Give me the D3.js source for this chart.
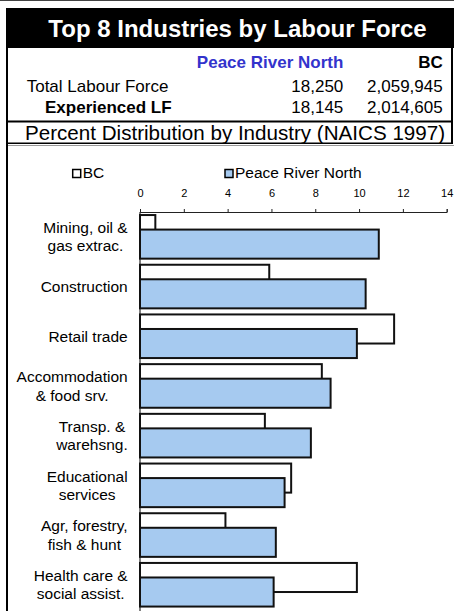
<!DOCTYPE html>
<html>
<head>
<meta charset="utf-8">
<script src="https://cdn.jsdelivr.net/npm/d3@7"></script>
<style>
  html, body { margin: 0; padding: 0; background: #fff; }
  svg { display: block; font-family: Arial, 'Liberation Sans', sans-serif; }
</style>
</head>
<body>
<div class="chart"></div>
<script>
const title = 'Top 8 Industries by Labour Force'
const subtitle = 'Percent Distribution by Industry (NAICS 1997)'
const regions = ['Peace River North', 'BC']
const totalLabourForce = ['18,250', '2,059,945']
const experiencedLF = ['18,145', '2,014,605']

const categories = [
  ['Mining, oil &', 'gas extrac.'],
  ['Construction'],
  ['Retail trade'],
  ['Accommodation', '& food srv.'],
  ['Transp. &', 'warehsng.'],
  ['Educational', 'services'],
  ['Agr, forestry,', 'fish & hunt'],
  ['Health care &', 'social assist.']
]
const bcValues = [0.7, 5.9, 11.6, 8.3, 5.7, 6.9, 3.9, 9.9]
const prnValues = [10.9, 10.3, 9.9, 8.7, 7.8, 6.6, 6.2, 6.1]
const xTicks = [0, 2, 4, 6, 8, 10, 12, 14]

const width = 454
const height = 611
const blue = '#a6caf0'

const svg = d3.select('.chart')
  .append('svg')
  .attr('width', width)
  .attr('height', height)

// header frame
svg.append('line')
  .attr('x1', 0).attr('x2', width).attr('y1', 0.5).attr('y2', 0.5)
  .attr('stroke', '#444')

svg.append('rect')
  .attr('x', 6).attr('y', 8).attr('width', width - 6).attr('height', 40)
  .attr('fill', '#000')

svg.append('text')
  .attr('x', 237.5).attr('y', 36.5)
  .attr('text-anchor', 'middle')
  .attr('fill', '#fff')
  .attr('font-weight', 'bold')
  .attr('font-size', 24)
  .text(title)

const frame = svg.append('g').attr('stroke', '#000')
frame.append('line').attr('x1', 7).attr('x2', 7).attr('y1', 48).attr('y2', height).attr('stroke-width', 2)
frame.append('line').attr('x1', 452).attr('x2', 452).attr('y1', 48).attr('y2', 144).attr('stroke-width', 2)
frame.append('line').attr('x1', 6).attr('x2', 453).attr('y1', 121.5).attr('y2', 121.5).attr('stroke-width', 2)
frame.append('line').attr('x1', 6).attr('x2', 453).attr('y1', 143.2).attr('y2', 143.2).attr('stroke-width', 1.5)
svg.append('line')
  .attr('x1', 8).attr('x2', width).attr('y1', 145.5).attr('y2', 145.5)
  .attr('stroke', '#999')

// header table
const colRight = [343.3, 442.7]
const header = svg.append('g').attr('font-size', 17)

header.selectAll('text.region')
  .data(regions)
  .join('text')
    .classed('region', true)
    .attr('x', (d, i) => colRight[i])
    .attr('y', 67.5)
    .attr('text-anchor', 'end')
    .attr('font-weight', 'bold')
    .attr('fill', (d, i) => i === 0 ? '#3333cc' : '#000')
    .text(d => d)

header.append('text')
  .attr('x', 26.7).attr('y', 91.5)
  .text('Total Labour Force')

header.selectAll('text.total')
  .data(totalLabourForce)
  .join('text')
    .classed('total', true)
    .attr('x', (d, i) => colRight[i])
    .attr('y', 91.5)
    .attr('text-anchor', 'end')
    .text(d => d)

header.append('text')
  .attr('x', 45).attr('y', 113.3)
  .attr('font-weight', 'bold')
  .text('Experienced LF')

header.selectAll('text.exp')
  .data(experiencedLF)
  .join('text')
    .classed('exp', true)
    .attr('x', (d, i) => colRight[i])
    .attr('y', 113.3)
    .attr('text-anchor', 'end')
    .text(d => d)

svg.append('text')
  .attr('x', 25).attr('y', 140)
  .attr('font-size', 20.6)
  .text(subtitle)

// legend
const legend = svg.append('g').attr('font-size', 15.5)
const legendItems = [
  { name: 'BC', fill: '#fff', x: 72.7 },
  { name: 'Peace River North', fill: blue, x: 225 }
]
legend.selectAll('rect')
  .data(legendItems)
  .join('rect')
    .attr('x', d => d.x)
    .attr('y', 169.5)
    .attr('width', 8)
    .attr('height', 8)
    .attr('fill', d => d.fill)
    .attr('stroke', '#000')
    .attr('stroke-width', 1.5)
legend.selectAll('text')
  .data(legendItems)
  .join('text')
    .attr('x', d => d.x + 10)
    .attr('y', 177.5)
    .text(d => d.name)

// scales
const x = d3.scaleLinear()
  .domain([0, 14])
  .range([140, 446.7])

const y = d3.scaleBand()
  .domain(d3.range(categories.length))
  .range([212, 609.6])

const barH = y.bandwidth() * 0.585
const inset = (y.bandwidth() - barH * 1.5) / 2

// axes
const xAxis = svg.append('g')
  .attr('transform', 'translate(0, 212)')
  .call(d3.axisTop(x).tickValues(xTicks).tickSize(3).tickSizeOuter(3).tickPadding(12))
xAxis.selectAll('text')
  .attr('font-size', 11)
  .attr('font-family', 'Arial, Liberation Sans, sans-serif')
  .attr('fill', '#000')
xAxis.selectAll('line, path').attr('stroke', '#222')

const yAxis = svg.append('g')
  .attr('transform', 'translate(140, 0)')
  .call(d3.axisLeft(y).tickSize(0).tickFormat(''))
yAxis.select('.domain').attr('stroke', '#000').attr('d', `M0,212V${height}`)

// bars
const bars = svg.append('g')
  .attr('stroke', '#111')
  .attr('stroke-width', 2)

bars.selectAll('rect.bc')
  .data(bcValues)
  .join('rect')
    .classed('bc', true)
    .attr('x', x(0))
    .attr('y', (d, i) => y(i) + inset)
    .attr('width', d => x(d) - x(0))
    .attr('height', barH)
    .attr('fill', '#fff')

bars.selectAll('rect.prn')
  .data(prnValues)
  .join('rect')
    .classed('prn', true)
    .attr('x', x(0))
    .attr('y', (d, i) => y(i) + inset + barH / 2)
    .attr('width', d => x(d) - x(0))
    .attr('height', barH)
    .attr('fill', blue)

// category labels: centred block, right-aligned against the axis
const lineGap = 18.3
const labels = svg.append('g').attr('font-size', 15.5).attr('fill', '#000')
categories.forEach((lines, i) => {
  const center = y(i) + y.bandwidth() / 2
  const first = center + 5.4 - (lines.length - 1) * lineGap / 2
  const t = labels.append('text').attr('text-anchor', 'middle')
  const spans = t.selectAll('tspan')
    .data(lines)
    .join('tspan')
      .attr('y', (d, j) => first + j * lineGap)
      .text(d => d)
  const maxW = d3.max(spans.nodes(), n => n.getComputedTextLength())
  spans.attr('x', 127.7 - maxW / 2)
})
</script>
</body>
</html>
